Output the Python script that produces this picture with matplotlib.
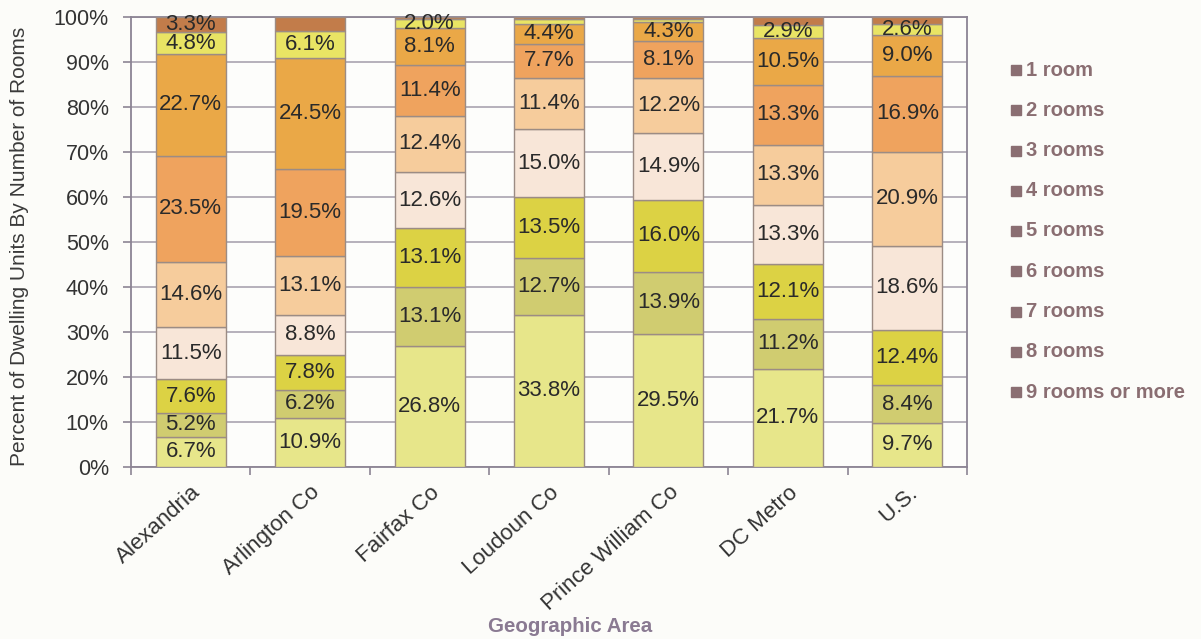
import matplotlib
matplotlib.use("Agg")
import matplotlib.pyplot as plt
import numpy as np

areas = ["Alexandria", "Arlington Co", "Fairfax Co", "Loudoun Co",
         "Prince William Co", "DC Metro", "U.S."]
series_names = ["1 room", "2 rooms", "3 rooms", "4 rooms", "5 rooms",
                "6 rooms", "7 rooms", "8 rooms", "9 rooms or more"]

room1 = [3.3, 3.1, 0.5, 0.5, 0.4, 1.7, 1.5]
room2 = [4.8, 6.1, 2.0, 1.0, 0.7, 2.9, 2.6]
room3 = [22.7, 24.5, 8.1, 4.4, 4.3, 10.5, 9.0]
room4 = [23.5, 19.5, 11.4, 7.7, 8.1, 13.3, 16.9]
room5 = [14.6, 13.1, 12.4, 11.4, 12.2, 13.3, 20.9]
room6 = [11.5, 8.8, 12.6, 15.0, 14.9, 13.3, 18.6]
room7 = [7.6, 7.8, 13.1, 13.5, 16.0, 12.1, 12.4]
room8 = [5.2, 6.2, 13.1, 12.7, 13.9, 11.2, 8.4]
room9 = [6.7, 10.9, 26.8, 33.8, 29.5, 21.7, 9.7]

# labels not printed in the original
hidden_labels = {("Arlington Co", "1 room")}

yticks = [0, 10, 20, 30, 40, 50, 60, 70, 80, 90, 100]

series = [room1, room2, room3, room4, room5, room6, room7, room8, room9]
colors = ["#c27c4a", "#e9e464", "#eaa847", "#efa35e", "#f6cc9c",
          "#f8e6d8", "#dcd244", "#d0cc70", "#e7e68a"]

plt.rcParams['font.family'] = ['Liberation Sans', 'DejaVu Sans']

W, H = 1201, 639
fig = plt.figure(figsize=(W / 100, H / 100), dpi=100)
fig.patch.set_facecolor("#fcfcf9")
ax_left, ax_right, ax_top, ax_bottom = 131, 967, 17, 466.7
ax = fig.add_axes([ax_left / W, 1 - ax_bottom / H,
                   (ax_right - ax_left) / W, (ax_bottom - ax_top) / H])
ax.set_facecolor("#fdfdfb")

x = np.arange(len(areas))
bottom = np.zeros(len(areas))
# stack from bottom: 9 rooms or more ... 1 room at top
for idx in range(len(series) - 1, -1, -1):
    vals = np.array(series[idx])
    ax.bar(x, vals, bottom=bottom, width=0.586, color=colors[idx],
           edgecolor="#9c8c84", linewidth=1.0, zorder=3)
    for i, v in enumerate(vals):
        if v >= 2.0 and (areas[i], series_names[idx]) not in hidden_labels:
            ax.text(x[i], bottom[i] + v / 2, f"{v:.1f}%", ha="center",
                    va="center", fontsize=16, color="#2a2a2a", zorder=4)
    bottom += vals

ax.set_xlim(-0.5, len(areas) - 0.5)
ax.set_ylim(0, 100)
ax.set_yticks(yticks)
ax.set_yticklabels([f"{t}%" for t in yticks], fontsize=15.5, color="#333333")
ax.yaxis.grid(True, color="#aaa4b0", linewidth=1.2, zorder=0)
ax.set_axisbelow(True)

ax.set_xticks(x)
ax.set_xticklabels(areas, rotation=42, ha="right", rotation_mode="anchor",
                   fontsize=16, color="#333333")
ax.tick_params(axis="x", length=0, pad=11)
ax.set_xticks(np.arange(-0.5, len(areas), 1.0), minor=True)
ax.tick_params(axis="x", which="minor", length=6, color="#8c8494", width=1.2)
ax.tick_params(axis="y", length=6, color="#8c8494", width=1.2, pad=10)

for s in ax.spines.values():
    s.set_color("#8c8494")
    s.set_linewidth(1.3)

ax.set_ylabel("Percent of Dwelling Units By Number of Rooms", fontsize=15,
              color="#3a3a3a")
ax.yaxis.set_label_coords((29 - ax_left) / (ax_right - ax_left), 0.49)
fig.text(570 / W, 1 - 627 / H, "Geographic Area", ha="center", va="center",
         fontsize=14.8, fontweight="bold", color="#8a7a92")

# legend (manual)
leg_color = "#8a6e72"
y0 = 70
for k, name in enumerate(series_names):
    ypix = y0 + k * 40.25
    yf = 1 - ypix / H
    fig.patches.append(plt.Rectangle((1011 / W, yf - 5 / H), 10 / W, 10 / H,
                                     transform=fig.transFigure, color=leg_color,
                                     figure=fig))
    fig.text(1026 / W, yf, name, ha="left", va="center", fontsize=14.5,
             fontweight="bold", color=leg_color)

fig.savefig("out.png", dpi=100, facecolor=fig.get_facecolor())
